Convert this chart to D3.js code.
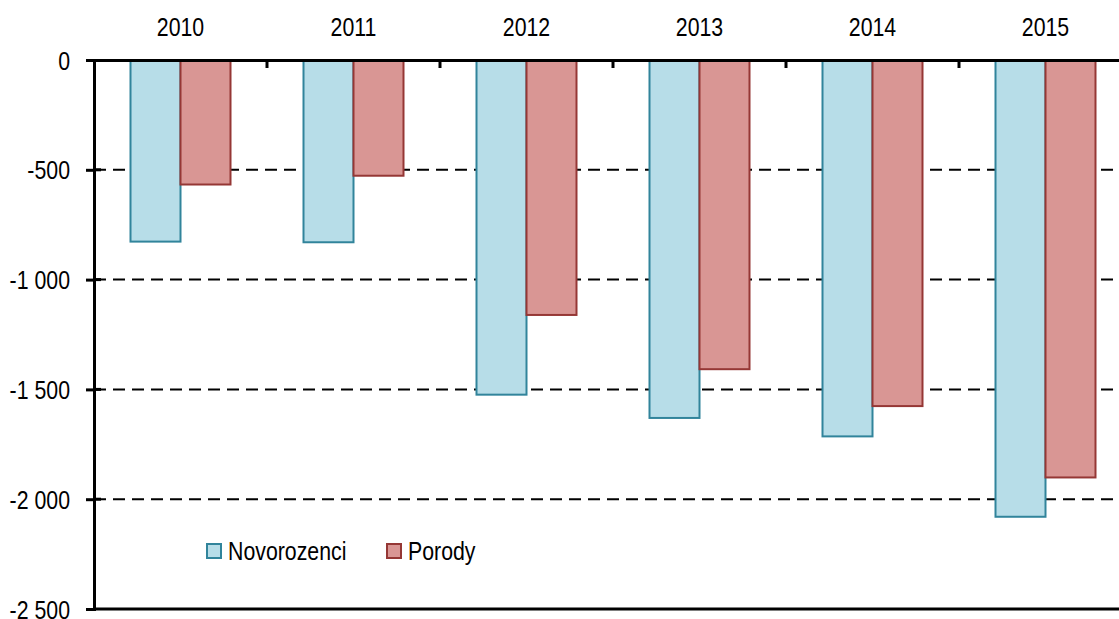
<!DOCTYPE html>
<html>
<head>
<meta charset="utf-8">
<script src="https://cdn.jsdelivr.net/npm/d3@7"></script>
<style>
  html, body { margin: 0; padding: 0; background: #fff; }
  svg text { font-family: "Liberation Sans", Arial, sans-serif; fill: #000; }
</style>
</head>
<body>
<div id="chart"></div>
<script>
const years = ['2010', '2011', '2012', '2013', '2014', '2015'];
const series = ['Novorozenci', 'Porody'];
const novorozenci = [-827, -830, -1524, -1630, -1714, -2080];
const porody = [-567, -527, -1161, -1408, -1576, -1901];
const yTicks = [0, -500, -1000, -1500, -2000, -2500];

const colors = {
  Novorozenci: {fill: '#b7dde8', stroke: '#31849b'},
  Porody: {fill: '#d99694', stroke: '#953735'}
};

// narrow font emulation (Arial Narrow look)
const NARROW = 0.82;
const FONT_SIZE = '26px';

var width = 1119, height = 619;
var margin = {top: 60, left: 94};
var plotRight = 1132;

var svg = d3.select('#chart').append('svg')
  .attr('width', width)
  .attr('height', height);

var x = d3.scaleBand()
  .domain(years)
  .range([margin.left, plotRight]);

var xSub = d3.scaleBand()
  .domain(series)
  .range([0, 100]);

var y = d3.scaleLinear()
  .domain([0, -2500])
  .range([margin.top, 609]);

// gridlines
svg.append('g')
  .selectAll('line')
  .data(yTicks.filter(d => d < 0 && d > -2500))
  .enter()
  .append('line')
  .attr('x1', margin.left)
  .attr('x2', plotRight)
  .attr('y1', d => y(d))
  .attr('y2', d => y(d))
  .attr('stroke', '#000')
  .attr('stroke-width', 2)
  .attr('stroke-dasharray', '12,7');

// ticks cross the y axis a little to the right
svg.append('g')
  .selectAll('line')
  .data(yTicks.filter(d => d < 0 && d > -2500))
  .enter()
  .append('line')
  .attr('x1', margin.left)
  .attr('x2', margin.left + 7)
  .attr('y1', d => y(d))
  .attr('y2', d => y(d))
  .attr('stroke', '#000')
  .attr('stroke-width', 3);

// bars
var data = years.map((yr, i) => ({year: yr, values: [
  {key: 'Novorozenci', value: novorozenci[i]},
  {key: 'Porody', value: porody[i]}
]}));

var group = svg.append('g')
  .selectAll('g')
  .data(data)
  .enter()
  .append('g')
  .attr('transform', d => 'translate(' + (x(d.year) + x.bandwidth() / 2 - 50) + ',0)');

group.selectAll('rect')
  .data(d => d.values)
  .enter()
  .append('rect')
  .attr('x', d => xSub(d.key))
  .attr('y', y(0))
  .attr('width', xSub.bandwidth())
  .attr('height', d => y(d.value) - y(0))
  .attr('fill', d => colors[d.key].fill)
  .attr('stroke', d => colors[d.key].stroke)
  .attr('stroke-width', 2);

// bottom line
svg.append('line')
  .attr('x1', margin.left)
  .attr('x2', plotRight)
  .attr('y1', y(-2500))
  .attr('y2', y(-2500))
  .attr('stroke', '#000')
  .attr('stroke-width', 3);

// y axis
var fmt = v => d3.format(',')(v).replace(/,/g, ' ').replace('−', '-');
var yAxis = d3.axisLeft(y)
  .tickValues(yTicks)
  .tickSize(8)
  .tickPadding(16)
  .tickFormat(fmt);

var yg = svg.append('g')
  .attr('transform', 'translate(' + margin.left + ',0)')
  .call(yAxis);
yg.select('.domain').attr('stroke', '#000').attr('stroke-width', 3);
yg.selectAll('.tick line').attr('stroke', '#000').attr('stroke-width', 3);
yg.selectAll('.tick text')
  .style('font-size', FONT_SIZE)
  .attr('x', -24 / NARROW)
  .attr('dy', '0.35em')
  .attr('transform', 'scale(' + NARROW + ',1)');

// category axis along zero
var xAxis = d3.axisTop(x).tickSize(0).tickPadding(24);
var xg = svg.append('g')
  .attr('transform', 'translate(0,' + y(0) + ')')
  .call(xAxis);
xg.select('.domain').attr('stroke', '#000').attr('stroke-width', 3);
xg.selectAll('.tick text')
  .style('font-size', FONT_SIZE)
  .attr('transform', 'scale(' + NARROW + ',1)');

svg.append('g')
  .selectAll('line')
  .data(years.slice(1).concat(['end']))
  .enter()
  .append('line')
  .attr('x1', d => d === 'end' ? plotRight : x(d))
  .attr('x2', d => d === 'end' ? plotRight : x(d))
  .attr('y1', y(0))
  .attr('y2', y(0) + 8)
  .attr('stroke', '#000')
  .attr('stroke-width', 3);

// legend
var legendPos = [207, 387];
var legend = svg.append('g')
  .selectAll('g')
  .data(series)
  .enter()
  .append('g')
  .attr('transform', (d, i) => 'translate(' + legendPos[i] + ',544)');

legend.append('rect')
  .attr('width', 14)
  .attr('height', 14)
  .attr('fill', d => colors[d].fill)
  .attr('stroke', d => colors[d].stroke)
  .attr('stroke-width', 2);

legend.append('text')
  .attr('x', 21 / NARROW)
  .attr('y', 16)
  .attr('transform', 'scale(' + NARROW + ',1)')
  .style('font-size', FONT_SIZE)
  .text(d => d);
</script>
</body>
</html>
